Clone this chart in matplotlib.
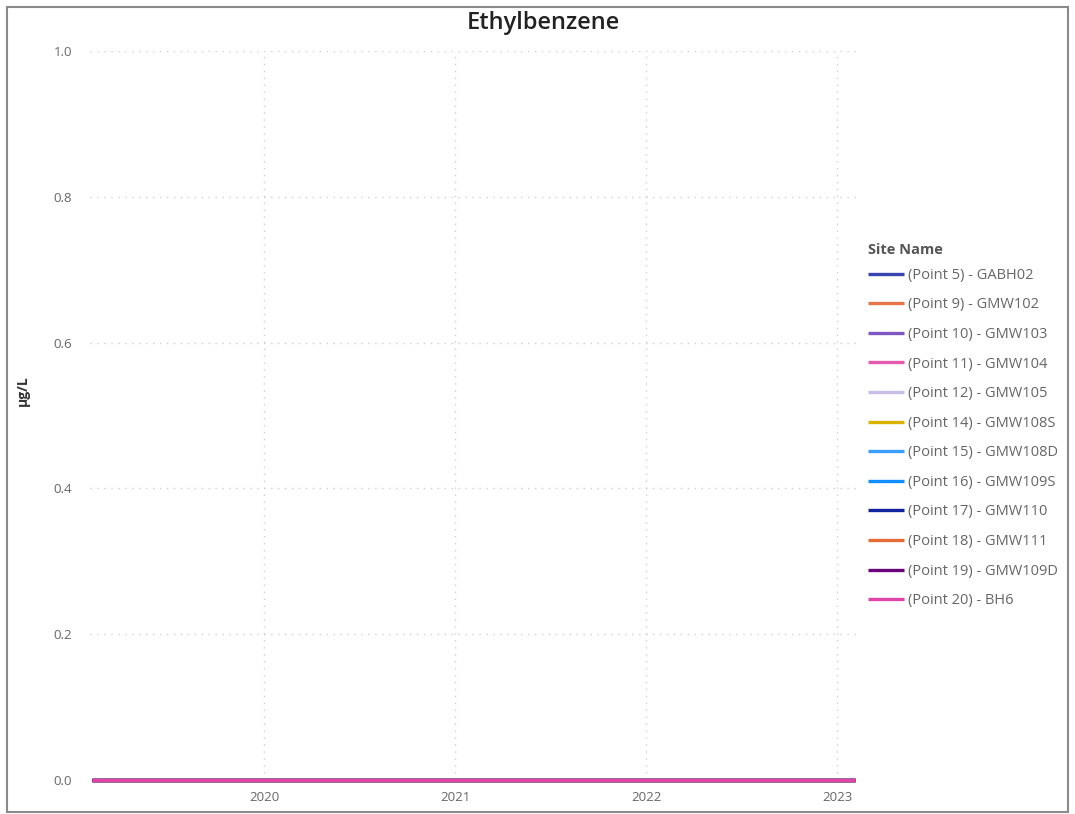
import matplotlib
matplotlib.use("Agg")
import matplotlib.pyplot as plt
from matplotlib.patches import Rectangle
import pandas as pd

plt.rcParams['font.family'] = ['Open Sans', 'DejaVu Sans']

# Sampling dates and Ethylbenzene results (all non-detect, reported as 0)
sample_dates = ["2019-02-06", "2019-05-15", "2019-08-15", "2019-11-15",
                "2020-02-15", "2020-05-15", "2020-08-15", "2020-11-15",
                "2021-02-15", "2021-05-15", "2021-08-15", "2021-11-15",
                "2022-02-15", "2022-05-15", "2022-08-15", "2022-11-15",
                "2023-02-04"]

sites = ["(Point 5) - GABH02", "(Point 9) - GMW102", "(Point 10) - GMW103",
         "(Point 11) - GMW104", "(Point 12) - GMW105", "(Point 14) - GMW108S",
         "(Point 15) - GMW108D", "(Point 16) - GMW109S", "(Point 17) - GMW110",
         "(Point 18) - GMW111", "(Point 19) - GMW109D", "(Point 20) - BH6"]

gabh02 = [0.0] * 17
gmw102 = [0.0] * 17
gmw103 = [0.0] * 17
gmw104 = [0.0] * 17
gmw105 = [0.0] * 17
gmw108s = [0.0] * 17
gmw108d = [0.0] * 17
gmw109s = [0.0] * 17
gmw110 = [0.0] * 17
gmw111 = [0.0] * 17
gmw109d = [0.0] * 17
bh6 = [0.0] * 17

series = [gabh02, gmw102, gmw103, gmw104, gmw105, gmw108s,
          gmw108d, gmw109s, gmw110, gmw111, gmw109d, bh6]

colors = ["#3645B0", "#E8744A", "#7E57C2", "#E65AAE", "#C8BCE8", "#D9B300",
          "#3AA0FF", "#118DFF", "#12239E", "#E66C37", "#6B007B", "#E044A7"]

y_ticks = [0.0, 0.2, 0.4, 0.6, 0.8, 1.0]
x_tick_years = ["2020", "2021", "2022", "2023"]

dates = pd.to_datetime(sample_dates)

fig = plt.figure(figsize=(10.75, 8.14), dpi=100)
fig.patches.append(Rectangle((7 / 1075, 2 / 814), 1061 / 1075, 805 / 814,
                             transform=fig.transFigure, fill=False,
                             edgecolor="#8a8a8a", linewidth=1.5))

ax = fig.add_axes([90 / 1075, 1 - 780 / 814, 770 / 1075, 729 / 814])

for name, vals, c in zip(sites, series, colors):
    ax.plot(dates, vals, color=c, linewidth=2.4, label=name,
            clip_on=False, solid_capstyle="butt")

ax.set_ylim(0, 1.0)
ax.set_xlim(pd.Timestamp("2019-02-02"), pd.Timestamp("2023-02-14"))
ax.set_yticks(y_ticks)
ax.set_yticklabels([f"{v:.1f}" for v in y_ticks])
ax.set_xticks(pd.to_datetime([f"{y}-01-01" for y in x_tick_years]))
ax.set_xticklabels(x_tick_years)

ax.tick_params(axis="both", length=0, labelsize=9.5, colors="#666666")
ax.tick_params(axis="y", pad=13)
ax.tick_params(axis="x", pad=8)
for s in ax.spines.values():
    s.set_visible(False)
ax.grid(True, color="#cfcfcf", linestyle=(0, (1, 4)), linewidth=1.0)
ax.set_axisbelow(True)

ax.set_ylabel("µg/L", fontsize=10, fontweight="bold", color="#333333")
ax.yaxis.set_label_coords(30 / 1075, 1 - 391 / 814, transform=fig.transFigure)

fig.text(543 / 1075, 1 - 23 / 814, "Ethylbenzene", ha="center", va="center",
         fontsize=17, fontweight="semibold", color="#222222")

# Legend heading drawn separately so the gap to the first entry stays tight
fig.text(868 / 1075, 1 - 250 / 814, "Site Name", ha="left", va="center",
         fontsize=10.5, fontweight="bold", color="#555555")

leg = ax.legend(loc="upper left", bbox_to_anchor=(862 / 1075, 1 - 262 / 814),
                bbox_transform=fig.transFigure, frameon=False,
                fontsize=10.5, handlelength=2.5,
                handletextpad=0.25, labelspacing=1.0, borderaxespad=0)
for t in leg.get_texts():
    t.set_color("#666666")

fig.savefig("out.png", dpi=100)
